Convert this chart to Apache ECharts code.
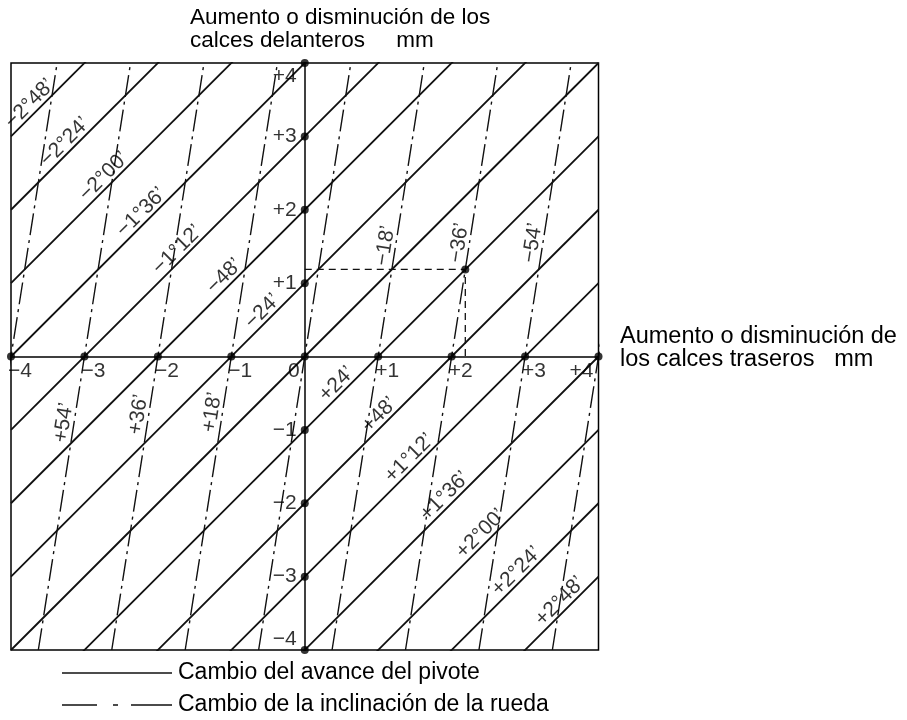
<!DOCTYPE html>
<html><head><meta charset="utf-8">
<script src="https://cdn.jsdelivr.net/npm/echarts@6/dist/echarts.min.js"></script>
<style>html,body{margin:0;padding:0;background:#fff}#c{width:907px;height:720px}</style>
</head><body><div id="c"></div>
<script>
// ---- data ----
const xTickValues = [-4, -3, -2, -1, 0, 1, 2, 3, 4];
const xTickLabels = ['−4', '−3', '−2', '−1', '0', '+1', '+2', '+3', '+4'];
const yTickValues = [-4, -3, -2, -1, 1, 2, 3, 4];
const yTickLabels = ['−4', '−3', '−2', '−1', '+1', '+2', '+3', '+4'];

// solid lines (caster change): front = rear + shift
const casterShift = [7, 6, 5, 4, 3, 2, 1, 0, -1, -2, -3, -4, -5, -6, -7];
const casterLabels = ['−2°48’', '−2°24’', '−2°00’', '−1°36’', '−1°12’', '−48’', '−24’', '',
  '+24’', '+48’', '+1°12’', '+1°36’', '+2°00’', '+2°24’', '+2°48’'];
const casterLabelAt = [-3.65, -3.17, -2.64, -2.13, -1.64, -1.0, -0.48, null,
  0.53, 1.11, 1.52, 2.0, 2.49, 2.98, 3.57];

// dash-dot lines (camber change): rear = base + slope * front
const camberBase = [-4, -3, -2, -1, 0, 1, 2, 3, 4];
const camberSlope = 0.157;
const camberLabels = ['', '+54’', '+36’', '+18’', '', '−18’', '−36’', '−54’', ''];
const camberLabelAt = [null, -0.9, -0.79, -0.76, null, 1.51, 1.55, 1.55, null];

// worked example: intersection of caster line and camber line
const exampleCaster = -1;
const exampleCamber = 2;

// ---- build ----
const FONT = "'Liberation Sans', Arial, Helvetica, sans-serif";
const INK = '#111';
const series = [];

casterShift.forEach(c => {
  series.push({
    type: 'line', data: [[-4, -4 + c], [4, 4 + c]], symbol: 'none', clip: true, silent: true,
    lineStyle: { color: INK, width: 1.8 }, z: 3
  });
});
camberBase.forEach(k => {
  series.push({
    type: 'line', data: [[k - 4 * camberSlope, -4], [k + 4 * camberSlope, 4]], symbol: 'none', clip: true, silent: true,
    lineStyle: { color: INK, width: 1.4, type: [22, 5, 3, 5] }, z: 3
  });
});

const exY = (exampleCamber + exampleCaster) / (1 - camberSlope);
const exX = exY - exampleCaster;
series.push({
  type: 'line', data: [[0, exY], [exX, exY], [exX, 0]], symbol: 'none', silent: true,
  lineStyle: { color: INK, width: 1.3, type: [7, 5] }, z: 3
});

// dots on axes
const dots = [];
xTickValues.forEach(v => dots.push([v, 0]));
yTickValues.forEach(v => dots.push([0, v]));
dots.push([exX, exY]);
series.push({
  type: 'scatter', data: dots, symbolSize: 8, itemStyle: { color: '#000' }, silent: true, z: 5
});

// tick labels
const tickLabelStyle = { show: true, formatter: '{b}', fontSize: 21, fontFamily: FONT, color: '#000' };
const xTickData = xTickValues.map((v, i) => {
  const leftSide = (v === 0 || v === 4);
  return {
    value: [v, 0], name: xTickLabels[i],
    label: { position: leftSide ? [-5, 4] : [-3, 4], align: leftSide ? 'right' : 'left', verticalAlign: 'top' }
  };
});
series.push({ type: 'scatter', data: xTickData, symbolSize: 0, silent: true, z: 6, label: tickLabelStyle });
const yTickData = yTickValues.map((v, i) => {
  let va = 'middle', dy = 0;
  if (v === 4) { va = 'top'; dy = 3; }
  if (v === -4) { va = 'bottom'; dy = 0; }
  return { value: [0, v], name: yTickLabels[i], label: { position: [-8, dy], align: 'right', verticalAlign: va } };
});
series.push({ type: 'scatter', data: yTickData, symbolSize: 0, silent: true, z: 6, label: tickLabelStyle });

// line labels
const GAP = 0.095;
const casterLabelData = [];
casterShift.forEach((c, i) => {
  if (!casterLabels[i]) return;
  const X = casterLabelAt[i];
  casterLabelData.push({ value: [X - GAP, X + c + GAP], name: casterLabels[i] });
});
series.push({
  type: 'scatter', data: casterLabelData, symbolSize: 0, silent: true, z: 6,
  label: { show: true, formatter: '{b}', position: 'inside', rotate: 45, fontSize: 21, fontFamily: FONT, color: '#000' }
});
const camberAngle = Math.atan2(1, camberSlope) * 180 / Math.PI;
const camberLabelData = [];
camberBase.forEach((k, i) => {
  if (!camberLabels[i]) return;
  const Y = camberLabelAt[i];
  camberLabelData.push({ value: [k + camberSlope * Y - 0.14, Y], name: camberLabels[i] });
});
series.push({
  type: 'scatter', data: camberLabelData, symbolSize: 0, silent: true, z: 6,
  label: { show: true, formatter: '{b}', position: 'inside', rotate: camberAngle, fontSize: 21, fontFamily: FONT, color: '#000' }
});

const txt = (t, x, y, size) => ({
  type: 'text', x, y, silent: true,
  style: { text: t, fill: '#000', font: size + 'px ' + FONT, textVerticalAlign: 'middle', textAlign: 'left' }
});

const option = {
  animation: false,
  backgroundColor: '#fff',
  grid: { left: 11, right: 308.5, top: 63, bottom: 70, show: true, borderColor: '#000', borderWidth: 1.5,
    containLabel: false, outerBoundsMode: 'none' },
  xAxis: {
    type: 'value', min: -4, max: 4, interval: 1,
    axisLine: { onZero: true, lineStyle: { color: '#000', width: 1.5 } },
    axisTick: { show: false }, splitLine: { show: false }, axisLabel: { show: false }
  },
  yAxis: {
    type: 'value', min: -4, max: 4, interval: 1,
    axisLine: { onZero: true, lineStyle: { color: '#000', width: 1.5 } },
    axisTick: { show: false }, splitLine: { show: false }, axisLabel: { show: false }
  },
  graphic: [
    txt('Aumento o disminución de los', 190, 18, 22.5),
    txt('calces delanteros     mm', 190, 41, 22.5),
    txt('Aumento o disminución de', 620, 336.5, 23.5),
    txt('los calces traseros   mm', 620, 360, 23.5),
    { type: 'line', silent: true, shape: { x1: 62, y1: 673, x2: 172, y2: 673 }, style: { stroke: INK, lineWidth: 1.5 } },
    { type: 'line', silent: true, shape: { x1: 62, y1: 705, x2: 172, y2: 705 }, style: { stroke: INK, lineWidth: 1.5, lineDash: [35, 16, 5, 13, 42] } },
    txt('Cambio del avance del pivote', 178, 672.5, 23),
    txt('Cambio de la inclinación de la rueda', 178, 704.5, 23)
  ],
  series
};
const chart = echarts.init(document.getElementById('c'), null, { renderer: 'canvas' });
chart.setOption(option);
</script></body></html>
